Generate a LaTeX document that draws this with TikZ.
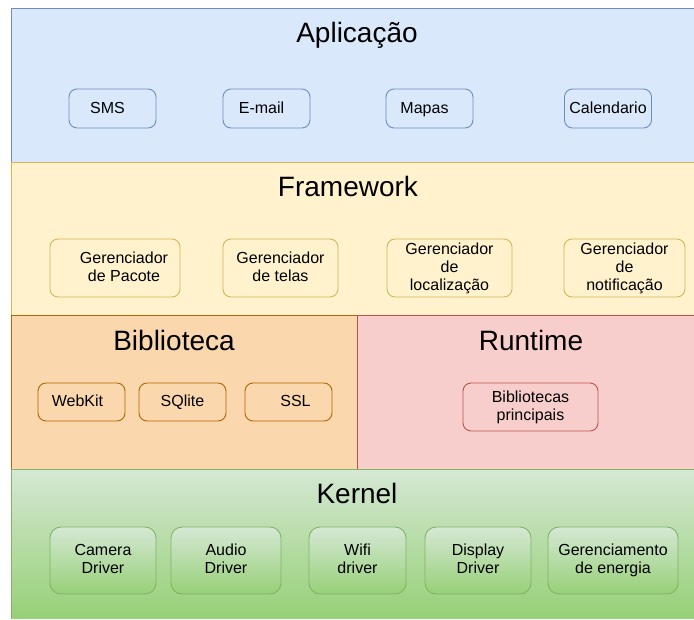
\documentclass[tikz,border=0pt]{standalone}
\usepackage{fontspec}
\setmainfont{Liberation Sans}
\usepackage{tikz}
\usetikzlibrary{positioning}

\definecolor{appfill}{HTML}{DAE8FC}
\definecolor{appline}{HTML}{6C8EBF}
\definecolor{fwfill}{HTML}{FFF2CC}
\definecolor{fwline}{HTML}{D6B656}
\definecolor{libfill}{HTML}{FAD7AC}
\definecolor{libline}{HTML}{B46504}
\definecolor{rtfill}{HTML}{F8CECC}
\definecolor{rtline}{HTML}{B85450}
\definecolor{kntop}{HTML}{D5E8D4}
\definecolor{knbot}{HTML}{97D077}
\definecolor{knline}{HTML}{82B366}

\newcommand{\boxstrut}{\rule[-3.5pt]{0pt}{16.5pt}}

\tikzset{
    title/.style={anchor=base, font=\fontsize{28}{32}\selectfont},
    part/.style={draw, rounded corners=8pt, line width=0.9pt, align=center,
        inner sep=0pt, font=\fontsize{16}{18}\selectfont,
        execute at begin node=\boxstrut, execute at end node=\boxstrut},
    appbox/.style={part, fill=appfill, draw=appline, minimum width=87pt, minimum height=39pt},
    fwbox/.style={part, fill=fwfill, draw=fwline, minimum height=58pt},
    libbox/.style={part, fill=libfill, draw=libline, minimum width=87pt, minimum height=38pt},
    rtbox/.style={part, fill=rtfill, draw=rtline, minimum width=135pt, minimum height=48pt},
    knbox/.style={part, rounded corners=11pt, top color=kntop, bottom color=knbot,
        draw=knline, minimum height=67pt},
}

\begin{document}
\begin{tikzpicture}[x=1pt, y=-1pt]
    \useasboundingbox (0, 0) rectangle (694, 619);

    % layers
    \filldraw [fill=appfill, draw=appline, line width=0.9pt] (11, 8) rectangle (696, 162);
    \filldraw [fill=fwfill, draw=fwline, line width=0.9pt] (11, 162) rectangle (696, 315);
    \filldraw [fill=libfill, draw=libline, line width=0.9pt] (11, 315) rectangle (357, 469);
    \filldraw [fill=rtfill, draw=rtline, line width=0.9pt] (357, 315) rectangle (696, 469);
    \shade [top color=kntop, bottom color=knbot] (11, 469) rectangle (696, 618);
    \draw [knline, line width=0.9pt] (11, 618) -- (11, 469) -- (696, 469);

    % Aplicacao
    \node [title] (app) at (357, 42) {Aplicação};
    \node [appbox] (sms) at (112.5, 108.5) {SMS\hspace*{10pt}};
    \node [appbox] (email) at (266.5, 108.5) {E-mail\hspace*{10pt}};
    \node [appbox] (mapas) at (429.5, 108.5) {Mapas\hspace*{10pt}};
    \node [appbox] (cal) at (608, 108.5) {Calendario};

    % Framework
    \node [title] (fw) at (348, 196) {Framework};
    \node [fwbox, minimum width=130pt] (pacote) at (115, 268) {\hspace*{18pt}Gerenciador\\\hspace*{18pt}de Pacote};
    \node [fwbox, minimum width=115pt] (telas) at (280.5, 268) {Gerenciador\\de telas};
    \node [fwbox, minimum width=125pt] (local) at (449.5, 268) {Gerenciador\\de\\localização};
    \node [fwbox, minimum width=121pt] (notif) at (624.5, 268) {Gerenciador\\de\\notificação};

    % Biblioteca / Runtime
    \node [title] (lib) at (174, 350) {Biblioteca};
    \node [libbox] (webkit) at (81.5, 402) {WebKit\hspace*{8pt}};
    \node [libbox] (sqlite) at (182.5, 402) {SQlite};
    \node [libbox] (ssl) at (288.5, 402) {\hspace*{14pt}SSL};
    \node [title] (rt) at (531, 350) {Runtime};
    \node [rtbox] (princ) at (530.5, 407) {Bibliotecas\\principais};

    % Kernel
    \node [title] (kernel) at (357, 503) {Kernel};
    \node [knbox, minimum width=106pt] (camera) at (103, 560.5) {Camera\\Driver};
    \node [knbox, minimum width=110pt] (audio) at (226, 560.5) {Audio\\Driver};
    \node [knbox, minimum width=97pt] (wifi) at (357.5, 560.5) {Wifi\\driver};
    \node [knbox, minimum width=106pt] (display) at (478, 560.5) {Display\\Driver};
    \node [knbox, minimum width=130pt] (energia) at (613, 560.5) {Gerenciamento\\de energia};
\end{tikzpicture}
\end{document}
